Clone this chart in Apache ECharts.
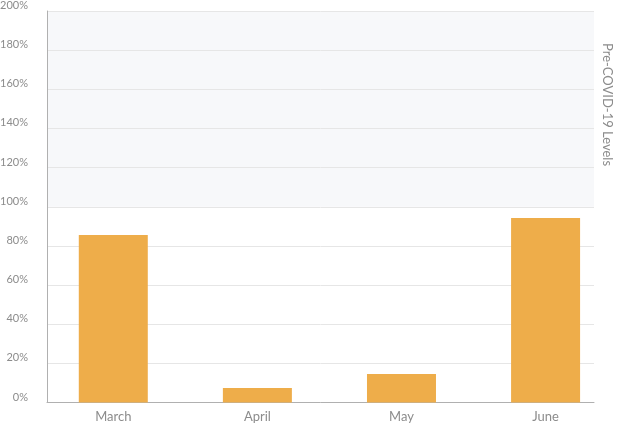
<!DOCTYPE html>
<html>
<head>
<meta charset="utf-8">
<script src="https://cdn.jsdelivr.net/npm/echarts@6/dist/echarts.min.js"></script>
<style>
  html, body { margin: 0; padding: 0; background: #fff; }
  #chart { width: 618px; height: 428px; }
</style>
</head>
<body>
<div id="chart"></div>
<script>
const months = ["March", "April", "May", "June"];
const levels = [85.6, 7.4, 14.6, 94.3];
const yTicks = [0, 20, 40, 60, 80, 100, 120, 140, 160, 180, 200];
const bandLabel = "Pre-COVID-19 Levels";

const textGray = "#8c8c8c";
const fontFamily = "Lato, 'Open Sans', sans-serif";

const chart = echarts.init(document.querySelector("#chart"));

// bands below 100% stay white, above are shaded
const bandColors = yTicks.slice(1).map((t) => (t > 100 ? "#f7f8fa" : "#ffffff"));

chart.setOption({
  animation: false,
  grid: { left: 47, right: 24, top: 11, bottom: 25.5, outerBoundsMode: "none", containLabel: false },
  xAxis: {
    type: "value",
    min: -0.46,
    max: 3.336,
    splitLine: { show: false },
    axisTick: { show: false },
    axisLine: { show: true, onZero: false, lineStyle: { color: "#b0b0b0", width: 1 } },
    axisLabel: {
      customValues: months.map((_, i) => i),
      formatter: (v) => months[Math.round(v)] || "",
      color: textGray,
      fontSize: 13,
      fontFamily,
      margin: 8
    }
  },
  yAxis: {
    type: "value",
    min: 0,
    max: 200,
    interval: 20,
    axisLine: { show: true, onZero: false, lineStyle: { color: "#b0b0b0", width: 1 } },
    axisTick: { show: false },
    splitLine: { lineStyle: { color: "#e6e6e6", width: 1 } },
    splitArea: { show: true, areaStyle: { color: bandColors } },
    axisLabel: {
      formatter: (v) => `${v}%`,
      color: textGray,
      fontSize: 11,
      fontFamily,
      margin: 19,
      verticalAlign: "bottom",
      lineHeight: 11
    }
  },
  series: [{
    type: "bar",
    barWidth: 69,
    itemStyle: { color: "#eead4a" },
    data: levels.map((v, i) => [i, v])
  }],
  graphic: [{
    type: "text",
    left: 601,
    top: 43,
    rotation: -Math.PI / 2,
    originX: 0,
    originY: 0,
    style: {
      text: bandLabel,
      fill: textGray,
      font: `13px ${fontFamily}`
    }
  }]
});
</script>
</body>
</html>
